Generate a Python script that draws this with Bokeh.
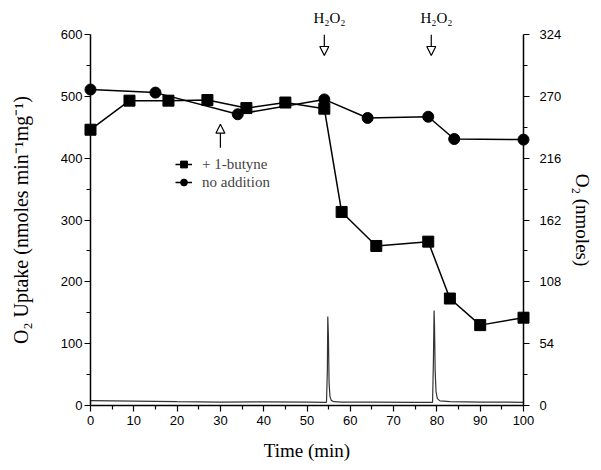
from bokeh.plotting import figure
from bokeh.models import (Range1d, LinearAxis, FixedTicker, Arrow, NormalHead,
                          Legend, LegendItem)
from bokeh.core.properties import value
from bokeh.embed import file_html
from bokeh.resources import INLINE

# ---- data ----
butyne_t = [0, 9, 18, 27, 36, 45, 54, 58, 66, 78, 83, 90, 100]
butyne_v = [446, 493, 493, 494, 481, 490, 480, 313, 258, 265, 173, 130, 142]
noadd_t = [0, 15, 34, 54, 64, 78, 84, 100]
noadd_v = [511, 506, 471, 495, 465, 467, 431, 430]
# O2 electrode trace (nmoles, right axis)
trace_t = [0, 10, 20, 30, 40, 50, 54.5, 54.7, 54.8, 54.95, 55.1, 55.3, 55.6, 56.2, 58, 65, 75,
           79.0, 79.2, 79.35, 79.45, 79.6, 79.8, 80.1, 80.7, 83, 90, 100]
trace_v = [4.3, 3.8, 3.3, 3.0, 3.2, 3.0, 2.8, 30, 77.8, 60, 20, 8, 4.5, 3.3, 3.0, 2.9, 2.8,
           2.8, 40, 83, 70, 30, 12, 6, 4.0, 3.3, 3.0, 2.8]
left_ticks = [0, 100, 200, 300, 400, 500, 600]
left_minor = [50, 150, 250, 350, 450, 550]
right_ticks = [0, 54, 108, 162, 216, 270, 324]
right_minor = [27, 81, 135, 189, 243, 297]
x_ticks = [0, 10, 20, 30, 40, 50, 60, 70, 80, 90, 100]
x_minor = [5, 15, 25, 35, 45, 55, 65, 75, 85, 95]
h2o2_t = [54, 78.7]
h2o2_text = ["H₂O₂", "H₂O₂"]
addition_t = 30

SERIF = "Liberation Serif"
SANS = "Liberation Sans"

p = figure(width=600, height=468, output_backend="svg", toolbar_location=None,
           x_range=Range1d(0, 100), y_range=Range1d(0, 600),
           min_border_left=90, min_border_right=77, min_border_top=34, min_border_bottom=63,
           y_axis_location=None, x_axis_location=None)
p.outline_line_color = None
p.grid.visible = False
p.background_fill_color = "white"
p.border_fill_color = "white"
p.extra_y_ranges = {"o2": Range1d(0, 324)}


def style(ax):
    ax.axis_line_color = "black"
    ax.axis_line_width = 1.5
    ax.major_tick_line_color = "black"
    ax.minor_tick_line_color = "black"
    ax.major_tick_line_width = 1.2
    ax.minor_tick_line_width = 1.2
    ax.major_tick_in = 0
    ax.minor_tick_in = 0
    ax.major_tick_out = 6
    ax.minor_tick_out = 4
    ax.major_label_text_font = SANS
    ax.major_label_text_font_size = "13px"
    ax.major_label_text_color = "black"
    ax.axis_label_text_font = SERIF
    ax.axis_label_text_font_style = "normal"
    ax.axis_label_text_font_size = "19px"
    ax.axis_label_text_color = "black"


ly = LinearAxis(ticker=FixedTicker(ticks=left_ticks, minor_ticks=left_minor),
                axis_label="O₂ Uptake (nmoles min⁻¹mg⁻¹)")
style(ly)
ly.axis_label_text_font_size = "20px"
ly.major_label_standoff = 2
ly.axis_label_standoff = 26
p.add_layout(ly, "left")

ry = LinearAxis(y_range_name="o2", ticker=FixedTicker(ticks=right_ticks, minor_ticks=right_minor),
                axis_label="O₂ (nmoles)")
style(ry)
ry.major_label_standoff = 10
ry.axis_label_standoff = 8
p.add_layout(ry, "right")

bx = LinearAxis(ticker=FixedTicker(ticks=x_ticks, minor_ticks=x_minor), axis_label="Time (min)")
style(bx)
bx.major_label_standoff = 4
bx.axis_label_standoff = 12
p.add_layout(bx, "below")

# trace
tr = p.line(trace_t, trace_v, y_range_name="o2", line_color="#333333", line_width=1.2)

# series
l1 = p.line(butyne_t, butyne_v, line_color="black", line_width=1.5, level="overlay")
s1 = p.scatter(butyne_t, butyne_v, marker="square", size=11, fill_color="black",
               line_color="black", level="overlay")
l2 = p.line(noadd_t, noadd_v, line_color="black", line_width=1.5, level="overlay")
s2 = p.scatter(noadd_t, noadd_v, marker="circle", size=11, fill_color="black",
               line_color="black", level="overlay")

legend = Legend(items=[LegendItem(label="+ 1-butyne", renderers=[l1, s1]),
                       LegendItem(label="no addition", renderers=[l2, s2])],
                location=(85, 214), padding=0, margin=0, spacing=0,
                glyph_width=17, glyph_height=18, label_height=18, label_standoff=10,
                label_text_font=SERIF, label_text_font_size="15px",
                border_line_color=None, background_fill_alpha=0)
p.add_layout(legend, "center")

# H2O2 labels (above the frame, unclipped overlay glyphs)
p.text([t + 1.2 for t in h2o2_t], [626] * len(h2o2_t), text=h2o2_text,
       text_align="center", text_baseline="middle", text_font=value(SERIF),
       text_font_size="15px", text_color="black", level="overlay")

# arrows
for t in h2o2_t:
    p.add_layout(Arrow(x_start=t, y_start=600, x_end=t, y_end=566,
                       line_color="black", line_width=1.2,
                       end=NormalHead(size=9, fill_color="white", line_color="black", line_width=1.2)))

p.add_layout(Arrow(x_start=addition_t, y_start=417, x_end=addition_t, y_end=455,
                   line_color="black", line_width=1.2,
                   end=NormalHead(size=9, fill_color="white", line_color="black", line_width=1.2)))

open("out.html", "w").write(file_html(p, INLINE))
